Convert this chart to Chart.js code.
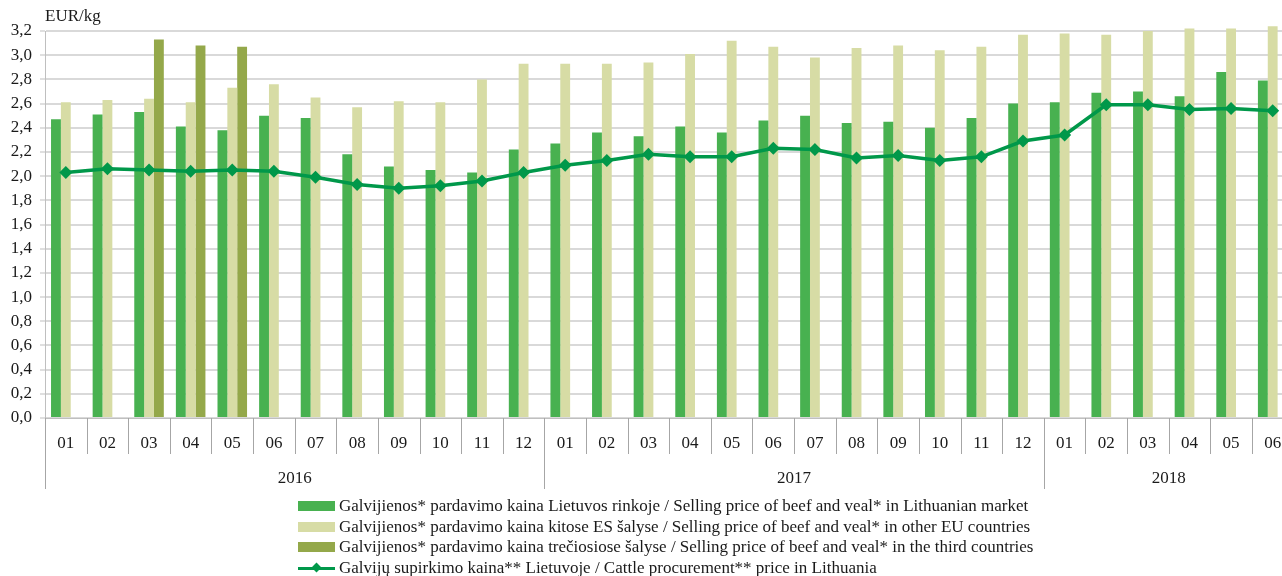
<!DOCTYPE html>
<html>
<head>
<meta charset="utf-8">
<script src="https://cdn.jsdelivr.net/npm/chart.js@4.4.1/dist/chart.umd.min.js"></script>
<style>
html,body{margin:0;padding:0;overflow:hidden;background:#fff;width:1282px;height:576px;}
#wrap{position:relative;width:1300px;height:576px;}
#legend{position:absolute;left:298px;top:495.6px;font-family:'Liberation Serif',serif;font-size:17px;color:#1a1a1a;}
.row{height:20.7px;display:flex;align-items:center;white-space:nowrap;}
.sw{width:37px;height:10px;margin-right:4px;position:relative;flex:none;}
.ln{width:37px;height:10px;margin-right:4px;position:relative;flex:none;}
.ln:before{content:'';position:absolute;left:0;right:0;top:3.5px;height:3px;background:#00984a;}
.ln:after{content:'';position:absolute;left:15px;top:1px;width:7px;height:7px;background:#00984a;transform:rotate(45deg);}
</style>
</head>
<body>
<div id="wrap">
<canvas id="c" width="1300" height="576"></canvas>
<div id="legend"></div>
</div>
<script>
const months = ['01','02','03','04','05','06','07','08','09','10','11','12',
                '01','02','03','04','05','06','07','08','09','10','11','12',
                '01','02','03','04','05','06'];
const years = ['2016','2017','2018'];
const yearCounts = [12,12,6];
const yTicks = [0,0.2,0.4,0.6,0.8,1.0,1.2,1.4,1.6,1.8,2.0,2.2,2.4,2.6,2.8,3.0,3.2];

const labelLT = 'Galvijienos* pardavimo kaina Lietuvos rinkoje / Selling price of beef and veal* in Lithuanian market';
const labelEU = 'Galvijienos* pardavimo kaina kitose ES šalyse / Selling price of beef and veal* in other EU countries';
const labelThird = 'Galvijienos* pardavimo kaina trečiosiose šalyse / Selling price of beef and veal* in the third countries';
const labelCattle = 'Galvijų supirkimo kaina** Lietuvoje / Cattle procurement** price in Lithuania';

const priceLT = [2.47,2.51,2.53,2.41,2.38,2.50,2.48,2.18,2.08,2.05,2.03,2.22,
                 2.27,2.36,2.33,2.41,2.36,2.46,2.50,2.44,2.45,2.40,2.48,2.60,
                 2.61,2.69,2.70,2.66,2.86,2.79];
const priceEU = [2.61,2.63,2.64,2.61,2.73,2.76,2.65,2.57,2.62,2.61,2.80,2.93,
                 2.93,2.93,2.94,3.01,3.12,3.07,2.98,3.06,3.08,3.04,3.07,3.17,
                 3.18,3.17,3.20,3.22,3.22,3.24];
const priceThird = [null,null,3.13,3.08,3.07,null,null,null,null,null,null,null,
                    null,null,null,null,null,null,null,null,null,null,null,null,
                    null,null,null,null,null,null];
const cattlePrice = [2.03,2.06,2.05,2.04,2.05,2.04,1.99,1.93,1.90,1.92,1.96,2.03,
                     2.09,2.13,2.18,2.16,2.16,2.23,2.22,2.15,2.17,2.13,2.16,2.29,
                     2.34,2.59,2.59,2.55,2.56,2.54];

const C_LT = '#48b150', C_EU = '#d7dca5', C_TH = '#94a84a', C_LINE = '#00984a';
const FONT = "'Liberation Serif', serif";
const TXT = '#1a1a1a';

const extras = {
  id: 'extras',
  afterDraw(chart) {
    const ctx = chart.ctx, xs = chart.scales.x, ca = chart.chartArea;
    const half = (xs.getPixelForValue(1) - xs.getPixelForValue(0)) / 2;
    ctx.save();
    ctx.strokeStyle = '#a6a6a6';
    ctx.lineWidth = 1;
    const yearStarts = [];
    let acc = 0;
    yearCounts.forEach(n => { yearStarts.push(acc); acc += n; });
    yearStarts.push(acc);
    for (let i = 0; i <= months.length; i++) {
      const x = Math.round(xs.getPixelForValue(i) - half) + 0.5;
      const isYear = yearStarts.includes(i);
      ctx.beginPath();
      ctx.moveTo(x, ca.bottom);
      ctx.lineTo(x, isYear ? 489 : 454);
      ctx.stroke();
    }
    ctx.fillStyle = TXT;
    ctx.font = '17px ' + FONT;
    ctx.textAlign = 'center';
    ctx.textBaseline = 'middle';
    years.forEach((y, k) => {
      const a = xs.getPixelForValue(yearStarts[k]) - half;
      const b = xs.getPixelForValue(yearStarts[k + 1] - 1) + half;
      ctx.fillText(y, (a + b) / 2, 479);
    });
    ctx.textAlign = 'left';
    ctx.fillText('EUR/kg', 45, 17);
    ctx.restore();
  }
};

new Chart(document.getElementById('c'), {
  data: {
    labels: months,
    datasets: [
      { type: 'line', label: labelCattle, data: cattlePrice, borderColor: C_LINE, backgroundColor: C_LINE,
        borderWidth: 3.5, pointStyle: 'rectRot', pointRadius: 6.5, pointBorderWidth: 0, tension: 0, order: 0, clip: false },
      { type: 'bar', label: labelLT, data: priceLT, backgroundColor: C_LT, order: 1, clip: false,
        categoryPercentage: 0.71, barPercentage: 1.0 },
      { type: 'bar', label: labelEU, data: priceEU, backgroundColor: C_EU, order: 1, clip: false,
        categoryPercentage: 0.71, barPercentage: 1.0 },
      { type: 'bar', label: labelThird, data: priceThird, backgroundColor: C_TH, order: 1, clip: false,
        categoryPercentage: 0.71, barPercentage: 1.0 }
    ]
  },
  options: {
    responsive: false,
    animation: false,
    devicePixelRatio: 1,
    layout: { padding: { top: 31, right: 6, left: 0, bottom: 0 } },
    plugins: { legend: { display: false }, tooltip: { enabled: false } },
    scales: {
      x: {
        offset: true,
        grid: { display: false, drawTicks: false },
        border: { display: true, color: '#bfbfbf', width: 1 },
        ticks: { color: TXT, font: { family: FONT, size: 17 }, padding: 15, maxRotation: 0, autoSkip: false },
        afterFit(s) { s.height = 158; }
      },
      y: {
        min: 0, max: 3.2,
        afterBuildTicks(s) { s.ticks = yTicks.map(v => ({ value: v })); },
        grid: { color: '#d9d9d9', lineWidth: 2, drawTicks: true, tickLength: 5, tickColor: '#bfbfbf', tickWidth: 1 },
        border: { display: true, color: '#bfbfbf', width: 1 },
        ticks: { color: TXT, font: { family: FONT, size: 17 }, padding: 8,
          callback: v => v.toFixed(1).replace('.', ',') },
        afterFit(s) { s.width = 45; }
      }
    }
  },
  plugins: [extras]
});

const leg = document.getElementById('legend');
[[labelLT, C_LT, 'bar'], [labelEU, C_EU, 'bar'], [labelThird, C_TH, 'bar'], [labelCattle, C_LINE, 'line']].forEach(([t, c, k]) => {
  const r = document.createElement('div'); r.className = 'row';
  const s = document.createElement('span');
  if (k === 'bar') { s.className = 'sw'; s.style.background = c; } else { s.className = 'ln'; }
  const tx = document.createElement('span'); tx.textContent = t;
  r.appendChild(s); r.appendChild(tx); leg.appendChild(r);
});
</script>
</body>
</html>
